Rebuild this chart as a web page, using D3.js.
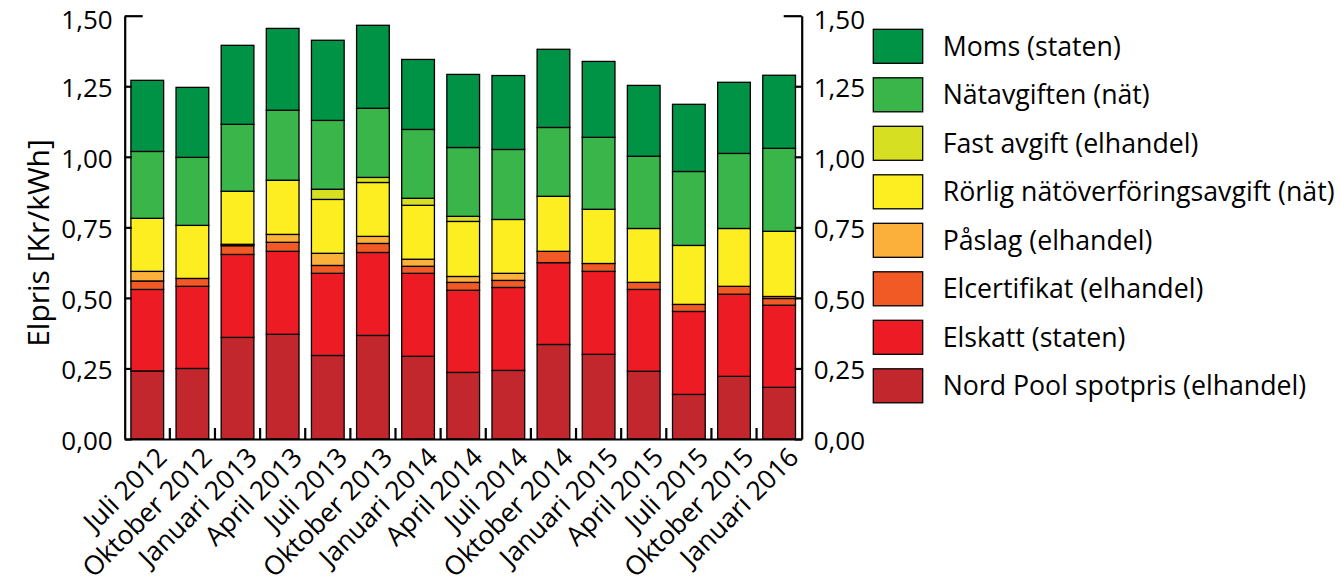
<!DOCTYPE html>
<html><head><meta charset="utf-8">
<script src="https://cdn.jsdelivr.net/npm/d3@7"></script>
<style>
html,body{margin:0;padding:0;background:#fff;}
svg{display:block;}
text{font-family:"Open Sans","Noto Sans",sans-serif;fill:#000;}
</style></head>
<body>
<svg id="chart" width="1341" height="587"></svg>
<script>
const categories = ["Juli 2012","Oktober 2012","Januari 2013","April 2013","Juli 2013","Oktober 2013","Januari 2014","April 2014","Juli 2014","Oktober 2014","Januari 2015","April 2015","Juli 2015","Oktober 2015","Januari 2016"];
const nordPool = [0.241,0.250,0.360,0.371,0.296,0.367,0.293,0.236,0.243,0.335,0.300,0.240,0.158,0.222,0.183];
const elskatt  = [0.289,0.291,0.294,0.294,0.291,0.294,0.294,0.291,0.294,0.290,0.294,0.290,0.294,0.291,0.291];
const elcert   = [0.030,0.028,0.031,0.032,0.028,0.032,0.025,0.028,0.025,0.040,0.028,0.025,0.025,0.028,0.024];
const paslag   = [0.034,0,0.005,0.028,0.043,0.025,0.025,0.021,0.025,0,0,0,0,0,0.007];
const rorlig   = [0.188,0.188,0.188,0.192,0.191,0.191,0.191,0.195,0.191,0.195,0.192,0.191,0.209,0.205,0.231];
const fast     = [0,0,0,0,0.036,0.018,0.025,0.018,0,0,0,0,0,0,0];
const nat      = [0.237,0.241,0.237,0.248,0.244,0.245,0.244,0.244,0.248,0.244,0.255,0.256,0.262,0.266,0.294];
const moms     = [0.252,0.248,0.280,0.290,0.284,0.294,0.248,0.259,0.262,0.277,0.269,0.251,0.238,0.252,0.259];
const yTicks = [0,0.25,0.5,0.75,1.0,1.25,1.5];

const seriesNames = ["Nord Pool spotpris (elhandel)","Elskatt (staten)","Elcertifikat (elhandel)","Påslag (elhandel)","Rörlig nätöverföringsavgift (nät)","Fast avgift (elhandel)","Nätavgiften (nät)","Moms (staten)"];
const seriesValues = [nordPool,elskatt,elcert,paslag,rorlig,fast,nat,moms];
const seriesColors = ["#C1272D","#ED1C24","#F15A24","#FBB03B","#FCEE21","#D7DF23","#39B54A","#009245"];

const svg = d3.select("#chart");
const L = 124.7, R = 801.7, T = 15.7, B = 439;
const FS = 26, XFS = 26.5, LFS = 26.7, TFS = 30;
const FF = '"Open Sans","Noto Sans",sans-serif';

const x = d3.scaleBand().domain(categories).range([L,R]).paddingInner(0.275).paddingOuter(0.1375);
const y = d3.scaleLinear().domain([0,1.5]).range([B,T]);

const table = categories.map((c,i)=>{const o={cat:c}; seriesNames.forEach((s,k)=>o[s]=seriesValues[k][i]); return o;});
const stack = d3.stack().keys(seriesNames)(table);

const g = svg.append("g");
stack.forEach((layer,k)=>{
  g.selectAll(null).data(layer.filter(d=>d[1]-d[0]>0)).enter().append("rect")
    .attr("x",d=>x(d.data.cat)).attr("width",x.bandwidth())
    .attr("y",d=>y(d[1])).attr("height",d=>y(d[0])-y(d[1]))
    .attr("fill",seriesColors[k]).attr("stroke","#000").attr("stroke-width",1.3);
});

const fmt = v => d3.format(".2f")(v).replace(".",",");
const la = svg.append("g").attr("transform",`translate(${L},0)`)
  .call(d3.axisLeft(y).tickValues(yTicks).tickFormat(fmt).tickSizeInner(-7).tickSizeOuter(0).tickPadding(12));
const ra = svg.append("g").attr("transform",`translate(${R},0)`)
  .call(d3.axisRight(y).tickValues(yTicks).tickFormat(fmt).tickSizeInner(-7).tickSizeOuter(0).tickPadding(12));
[la,ra].forEach((a,i)=>{
  a.select(".domain").attr("stroke","#000").attr("stroke-width",2.2);
  a.selectAll(".tick line").attr("stroke","#000").attr("stroke-width",2.2);
  a.selectAll(".tick").filter(d=>d===1.5).select("line").attr("x2", i===0?18:-18);
  a.selectAll(".tick text").attr("font-size",FS).style("font-family",FF).attr("y",2);
  a.selectAll(".tick").filter(d=>d===1.5).select("text").attr("y",4);
});
const xa = svg.append("g").attr("transform",`translate(0,${B})`)
  .call(d3.axisBottom(x).tickSize(0).tickPadding(0));
xa.select(".domain").attr("stroke","#000").attr("stroke-width",2.2);
xa.selectAll(".tick text")
  .attr("font-size",XFS).style("font-family",FF)
  .attr("text-anchor","end")
  .attr("transform",`translate(8,7) rotate(-45)`)
  .attr("dy","0.7em");
const bounds = categories.slice(1).map(c=>x(c)-x.step()*x.paddingInner()/2);
svg.append("g").selectAll("line").data(bounds).enter().append("line")
  .attr("x1",d=>d).attr("x2",d=>d).attr("y1",B).attr("y2",B-11)
  .attr("stroke","#000").attr("stroke-width",2.2);

svg.append("text").attr("transform",`translate(49,243) rotate(-90)`)
  .attr("text-anchor","middle").attr("font-size",TFS).text("Elpris [Kr/kWh]");

const legOrder = seriesNames.map((s,k)=>k).reverse();
const lg = svg.append("g");
legOrder.forEach((k,i)=>{
  const yy = 29.3 + i*48.5;
  lg.append("rect").attr("x",873.3).attr("y",yy).attr("width",49.4).attr("height",34)
    .attr("fill",seriesColors[k]).attr("stroke","#000").attr("stroke-width",1.3);
  lg.append("text").attr("x",942.7).attr("y",yy+17).attr("dy","0.35em")
    .attr("font-size",LFS).text(seriesNames[k]);
});
</script>
</body></html>
